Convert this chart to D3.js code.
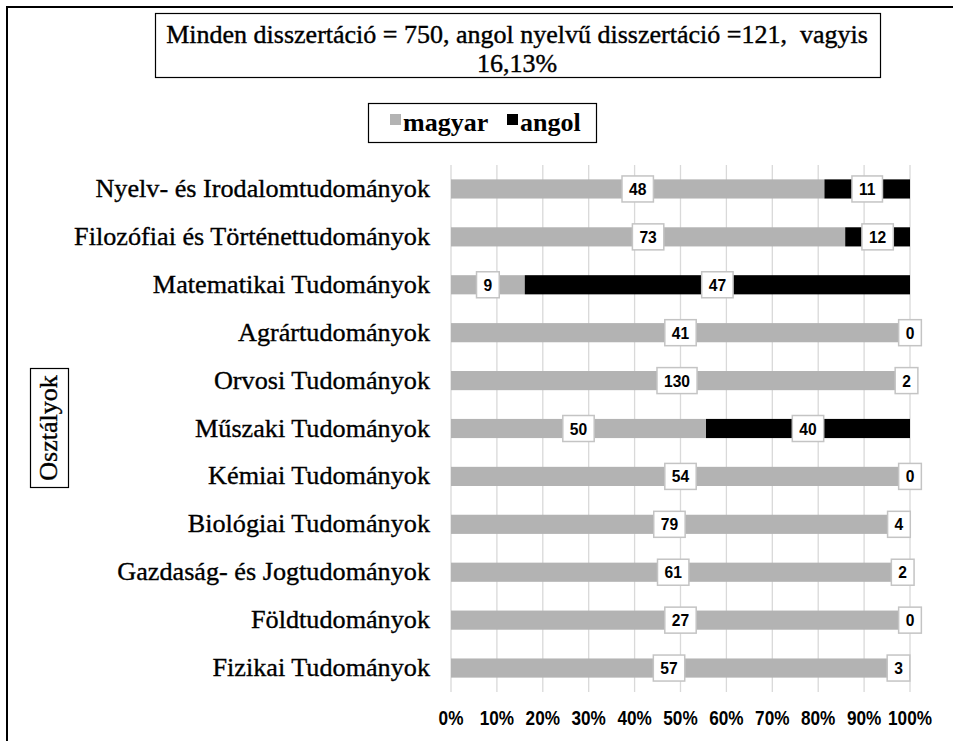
<!DOCTYPE html>
<html><head><meta charset="utf-8">
<script src="https://cdn.jsdelivr.net/npm/d3@7"></script>
<style>body{margin:0;background:#fff}svg{display:block}</style>
</head><body>
<svg id="c" width="953" height="741"></svg>
<script>
const categories = ["Nyelv- és Irodalomtudományok","Filozófiai és Történettudományok","Matematikai Tudományok","Agrártudományok","Orvosi Tudományok","Műszaki Tudományok","Kémiai Tudományok","Biológiai Tudományok","Gazdaság- és Jogtudományok","Földtudományok","Fizikai Tudományok"];
const magyar = [48,73,9,41,130,50,54,79,61,27,57];
const angol  = [11,12,47,0,2,40,0,4,2,0,3];
const seriesNames = ["magyar","angol"];
const tickValues = [0,0.1,0.2,0.3,0.4,0.5,0.6,0.7,0.8,0.9,1];
const titleLines = ["Minden disszertáció = 750, angol nyelvű disszertáció =121,  vagyis","16,13%"];
const yTitle = "Osztályok";

const colors = {magyar:"#b3b3b3", angol:"#000000"};
const svg = d3.select("#c");
const serif = "'Liberation Serif','Times New Roman',serif";
const sans = "'Liberation Sans',Arial,sans-serif";

// outer frame (top & left visible)
svg.append("line").attr("x1",6).attr("y1",7).attr("x2",953).attr("y2",7).attr("stroke","#000").attr("stroke-width",2);
svg.append("line").attr("x1",7).attr("y1",6).attr("x2",7).attr("y2",741).attr("stroke","#000").attr("stroke-width",2);

const x = d3.scaleLinear().domain([0,1]).range([451,910]);
const y = d3.scaleBand().domain(categories).range([165,692]).paddingInner(0.6).paddingOuter(0.3);

// gridlines
svg.append("g").selectAll("line").data(tickValues).join("line")
  .attr("x1",d=>x(d)).attr("x2",d=>x(d)).attr("y1",165).attr("y2",692)
  .attr("stroke","#d9d9d9").attr("stroke-width",1.3);

const rows = categories.map((c,i)=>({c, m:magyar[i], a:angol[i], t:magyar[i]+angol[i]}));
const stackData = rows.map(r=>({c:r.c, magyar:r.m/r.t, angol:r.a/r.t, raw:{magyar:r.m, angol:r.a}}));
const stack = d3.stack().keys(seriesNames)(stackData);

const gBars = svg.append("g");
stack.forEach(s=>{
  gBars.selectAll(null).data(s).join("rect")
    .attr("x",d=>x(d[0])).attr("width",d=>x(d[1])-x(d[0]))
    .attr("y",d=>y(d.data.c)).attr("height",y.bandwidth())
    .attr("fill",colors[s.key]);
});

// data labels
const gLab = svg.append("g");
stack.forEach(s=>{
  s.forEach(d=>{
    const v = d.data.raw[s.key];
    const cx = (x(d[0])+x(d[1]))/2;
    const cy = y(d.data.c)+y.bandwidth()/2;
    const g = gLab.append("g");
    const t = g.append("text").attr("transform",`translate(${cx},${cy+6}) scale(0.92,1)`).attr("text-anchor","middle")
      .attr("font-family",sans).attr("font-weight","bold").attr("font-size",17).attr("fill","#000").text(v);
    const w = t.node().getComputedTextLength()*0.92;
    g.insert("rect","text").attr("x",cx-w/2-7).attr("y",cy-13).attr("width",w+14).attr("height",26)
      .attr("fill","#fff").attr("stroke","#c4c4c4").attr("stroke-width",1.5);
  });
});

// category labels
svg.append("g").selectAll("text").data(categories).join("text")
  .attr("x",430).attr("y",d=>y(d)+y.bandwidth()/2+8).attr("text-anchor","end")
  .attr("font-family",serif).attr("font-size",26.2).attr("fill","#000")
  .attr("stroke","#000").attr("stroke-width",0.35).text(d=>d);

// x tick labels
svg.append("g").selectAll("text").data(tickValues).join("text")
  .attr("transform",d=>`translate(${x(d)},${725}) scale(0.86,1)`).attr("text-anchor","middle")
  .attr("font-family",sans).attr("font-weight","bold").attr("font-size",20).attr("fill","#000")
  .text(d3.format(".0%"));

// title box
svg.append("rect").attr("x",155.5).attr("y",13.5).attr("width",725).attr("height",64).attr("fill","#fff").attr("stroke","#000").attr("stroke-width",1.2);
svg.append("g").selectAll("text").data(titleLines).join("text")
  .attr("x",517).attr("y",(d,i)=>43+i*29).attr("text-anchor","middle").style("white-space","pre")
  .attr("font-family",serif).attr("font-size",26).attr("fill","#000")
  .attr("stroke","#000").attr("stroke-width",0.4).text(d=>d);

// legend box
svg.append("rect").attr("x",368.5).attr("y",103.5).attr("width",228).attr("height",39).attr("fill","#fff").attr("stroke","#000").attr("stroke-width",1.2);
const leg = svg.append("g");
const legX = [390, 507];
seriesNames.forEach((k,i)=>{
  leg.append("rect").attr("x",legX[i]).attr("y",114).attr("width",11).attr("height",11).attr("fill",colors[k]);
  leg.append("text").attr("x",legX[i]+13).attr("y",131).attr("font-family",serif).attr("font-weight","bold")
    .attr("font-size",26).attr("fill","#000").text(k);
});

// y title
svg.append("rect").attr("x",30.5).attr("y",368.5).attr("width",38).attr("height",119).attr("fill","#fff").attr("stroke","#000").attr("stroke-width",1.2);
svg.append("text").attr("transform","translate(57,428) rotate(-90)").attr("text-anchor","middle")
  .attr("font-family",serif).attr("font-size",26).attr("fill","#000")
  .attr("stroke","#000").attr("stroke-width",0.35).text(yTitle);
</script>
</body></html>
